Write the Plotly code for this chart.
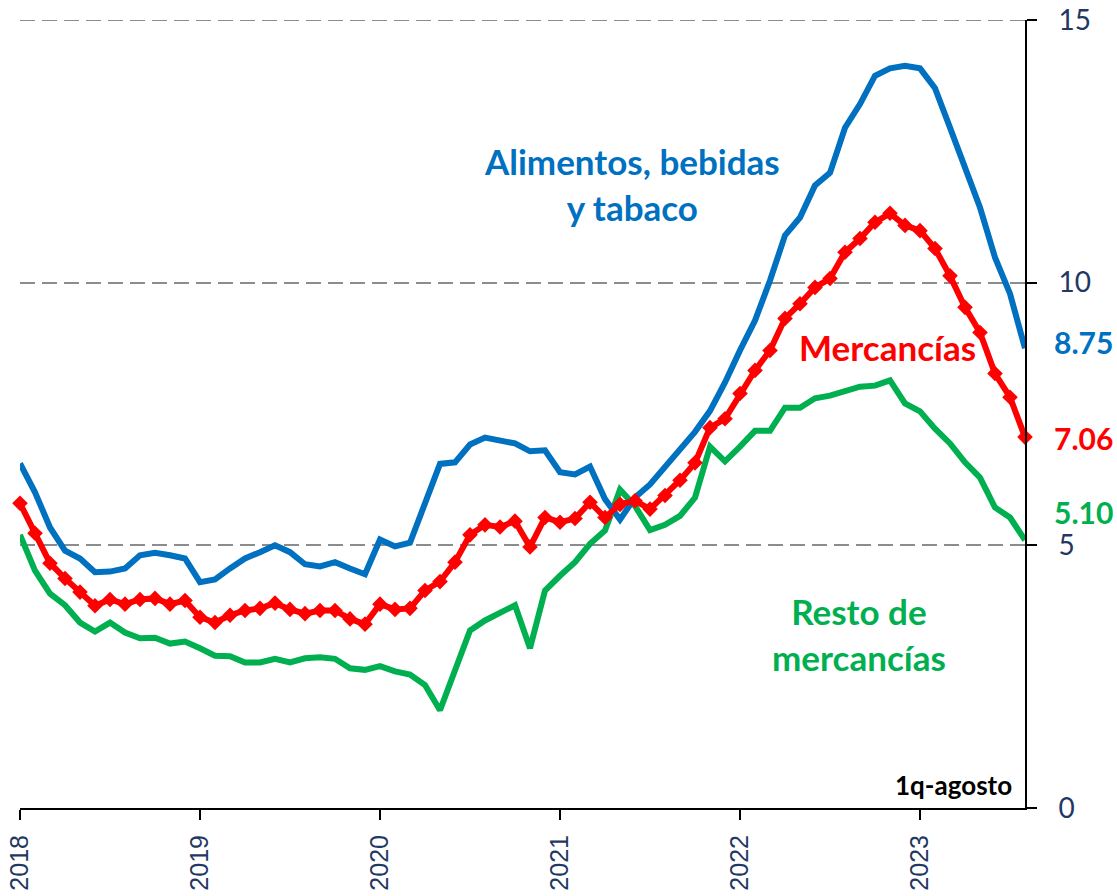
import plotly.graph_objects as go

# Monthly annual inflation, Jan-2018 ... Jul-2023 plus first fortnight of August 2023
start_year = 2018
n_points = 68
months = [start_year + i / 12 for i in range(n_points)]

year_ticks = [2018, 2019, 2020, 2021, 2022, 2023]
y_ticks = [0, 5, 10, 15]

alimentos = [
    6.56, 6.01, 5.34, 4.90, 4.75, 4.49, 4.50, 4.56, 4.81, 4.86, 4.81, 4.75,
    4.30, 4.35, 4.56, 4.75, 4.87, 5.00, 4.87, 4.64, 4.60, 4.68, 4.56, 4.45,
    5.11, 4.98, 5.05, 5.79, 6.55, 6.58, 6.92, 7.05, 7.00, 6.94, 6.79, 6.81,
    6.39, 6.35, 6.50, 5.88, 5.49, 5.91, 6.16, 6.50, 6.86, 7.16, 7.56, 8.10,
    8.71, 9.28, 10.04, 10.90, 11.24, 11.85, 12.09, 12.95, 13.40, 13.94, 14.08, 14.13,
    14.08, 13.70, 12.95, 12.20, 11.43, 10.48, 9.79, 8.75,
]

mercancias = [
    5.80, 5.23, 4.66, 4.37, 4.11, 3.85, 3.97, 3.88, 3.97, 3.99, 3.88, 3.95,
    3.63, 3.53, 3.67, 3.76, 3.80, 3.90, 3.78, 3.70, 3.76, 3.76, 3.60, 3.50,
    3.88, 3.78, 3.80, 4.14, 4.31, 4.68, 5.20, 5.39, 5.35, 5.46, 4.97, 5.53,
    5.44, 5.51, 5.82, 5.53, 5.78, 5.85, 5.69, 5.95, 6.24, 6.57, 7.24, 7.41,
    7.89, 8.33, 8.71, 9.32, 9.60, 9.91, 10.08, 10.58, 10.84, 11.15, 11.32, 11.09,
    10.99, 10.65, 10.13, 9.53, 9.05, 8.27, 7.82, 7.06,
]

resto = [
    5.20, 4.52, 4.08, 3.86, 3.53, 3.36, 3.53, 3.34, 3.23, 3.24, 3.13, 3.17,
    3.04, 2.90, 2.89, 2.77, 2.77, 2.84, 2.77, 2.85, 2.87, 2.84, 2.66, 2.63,
    2.70, 2.60, 2.54, 2.34, 1.86, 2.62, 3.38, 3.57, 3.70, 3.86, 3.04, 4.14,
    4.42, 4.68, 5.03, 5.28, 6.06, 5.75, 5.29, 5.39, 5.56, 5.91, 6.88, 6.60,
    6.88, 7.18, 7.18, 7.62, 7.62, 7.80, 7.85, 7.93, 8.02, 8.04, 8.14, 7.70,
    7.55, 7.22, 6.94, 6.58, 6.29, 5.72, 5.53, 5.10,
]

BLUE = "#0070C0"
RED = "#FF0000"
GREEN = "#00B050"
NAVY = "#1F3864"
GRID = "#8c8c8c"
LABEL_FONT = "Lato"

fig = go.Figure()

fig.add_trace(go.Scatter(
    x=months, y=resto, mode="lines", name="Resto de mercancías",
    line=dict(color=GREEN, width=6), cliponaxis=False,
))
fig.add_trace(go.Scatter(
    x=months, y=alimentos, mode="lines", name="Alimentos, bebidas y tabaco",
    line=dict(color=BLUE, width=6), cliponaxis=False,
))
fig.add_trace(go.Scatter(
    x=months, y=mercancias, mode="lines+markers", name="Mercancías",
    line=dict(color=RED, width=6),
    marker=dict(symbol="diamond", size=12, color=RED),
    cliponaxis=False,
))

# Series names inside the plot
series_labels = [
    ("<b>Alimentos, bebidas<br>y tabaco</b>", 2021.40, 11.87, BLUE),
    ("<b>Mercancías</b>", 2022.82, 8.77, RED),
    ("<b>Resto de<br>mercancías</b>", 2022.66, 3.32, GREEN),
]
for text, x, y, color in series_labels:
    fig.add_annotation(
        x=x, y=y, xref="x", yref="y", text=text, showarrow=False,
        font=dict(family=LABEL_FONT, size=35, color=color),
        xanchor="center", yanchor="middle", align="center",
    )

# Latest values next to the right axis
last_x = months[-1]
for series, color, yshift in [(alimentos, BLUE, 6), (mercancias, RED, -1), (resto, GREEN, 28)]:
    fig.add_annotation(
        x=last_x, y=series[-1], xref="x", yref="y",
        text=f"<b>{series[-1]:.2f}</b>", showarrow=False,
        font=dict(family=LABEL_FONT, size=30, color=color),
        xanchor="left", yanchor="middle", xshift=28, yshift=yshift,
        borderpad=0,
    )

fig.add_annotation(
    x=last_x, y=0.43, xref="x", yref="y", text="<b>1q-agosto</b>",
    showarrow=False, font=dict(family=LABEL_FONT, size=26, color="black"),
    xanchor="right", yanchor="middle", xshift=-11,
)

# Top reference line at 15 (the axis edge hides the regular gridline)
fig.add_shape(
    type="line", xref="paper", x0=0, x1=1, yref="y", y0=15, y1=15,
    line=dict(color=GRID, width=2, dash="15px,7px"), layer="below",
)

fig.update_layout(
    width=1117, height=896,
    margin=dict(l=20, r=92, t=20, b=88),
    paper_bgcolor="white", plot_bgcolor="white",
    showlegend=False,
    xaxis=dict(
        range=[months[0], months[-1]], automargin=False,
        tickmode="array", tickvals=year_ticks, ticktext=[str(y) for y in year_ticks],
        tickangle=-90, ticks="outside", ticklen=10, tickwidth=2, tickcolor="black",
        tickfont=dict(family="Liberation Sans", size=25, color=NAVY),
        ticklabelstandoff=5,
        showline=True, linecolor="black", linewidth=2,
        showgrid=False, zeroline=False,
    ),
    yaxis=dict(
        side="right", range=[0, 15], automargin=False,
        tickmode="array", tickvals=y_ticks,
        ticks="outside", ticklen=10, tickwidth=2, tickcolor="black",
        tickfont=dict(family=LABEL_FONT, size=28, color=NAVY),
        ticklabelstandoff=16,
        showline=True, linecolor="black", linewidth=2,
        showgrid=True, gridcolor=GRID, gridwidth=2, griddash="15px,7px",
        zeroline=False,
    ),
)

fig.write_html("out.html")
